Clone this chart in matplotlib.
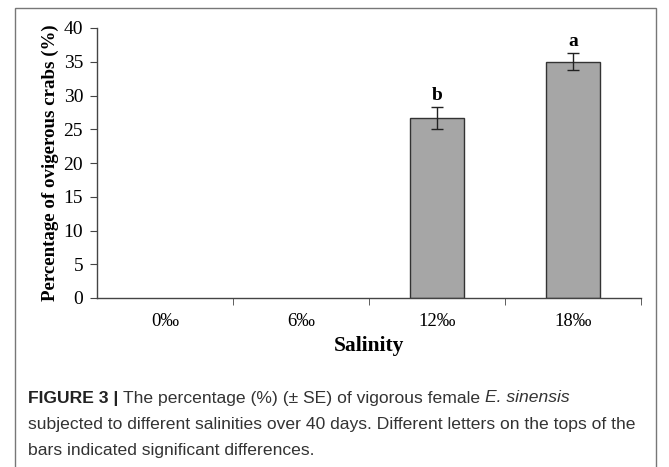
import matplotlib
matplotlib.use("Agg")
import matplotlib.pyplot as plt
from matplotlib.patches import Rectangle

categories = ["0‰", "6‰", "12‰", "18‰"]
values = [0, 0, 26.7, 35.0]
errors = [0, 0, 1.6, 1.25]
letters = ["", "", "b", "a"]
yticks = [0, 5, 10, 15, 20, 25, 30, 35, 40]

W, H = 669, 467
fig = plt.figure(figsize=(W / 100, H / 100), dpi=100)
serif = ["Liberation Serif", "DejaVu Serif"]

ax = fig.add_axes([97 / W, 1 - 298 / H, (641 - 97) / W, (298 - 28) / H])
x = list(range(len(categories)))
for i, (v, e) in enumerate(zip(values, errors)):
    if v > 0:
        ax.bar(i, v, width=0.4, color="#a6a6a6", edgecolor="#333333", linewidth=1.0, zorder=2)
        ax.errorbar(i, v, yerr=e, fmt="none", ecolor="#222222", elinewidth=1.0, capsize=4, capthick=1.0, zorder=3)
        ax.text(i, v + e + 0.5, letters[i], ha="center", va="bottom", fontsize=14,
                fontweight="bold", family=serif)

ax.set_xlim(-0.5, len(categories) - 0.5)
ax.set_ylim(0, 40)
ax.set_yticks(yticks)
ax.set_yticklabels([str(t) for t in yticks], family=serif, fontsize=14)
ax.set_xticks(x)
ax.set_xticklabels(categories, family=serif, fontsize=13.5)
ax.set_xticks([i + 0.5 for i in x], minor=True)
ax.tick_params(axis="x", which="major", length=0, pad=11)
ax.tick_params(axis="x", which="minor", length=5, direction="out", color="#444444")
ax.tick_params(axis="y", length=5, direction="out", color="#444444", pad=5)
for s in ["top", "right"]:
    ax.spines[s].set_visible(False)
for s in ["left", "bottom"]:
    ax.spines[s].set_color("#444444")
    ax.spines[s].set_linewidth(1.0)
ax.set_ylabel("Percentage of ovigerous crabs (%)", family=serif, fontsize=13.6, fontweight="bold", labelpad=3)
ax.set_xlabel("Salinity", family=serif, fontsize=15.5, fontweight="bold", labelpad=4)

# outer frame
fig.patches.append(Rectangle((15 / W, -0.02), (656 - 15) / W, 1 - 8 / H + 0.02,
                             transform=fig.transFigure, fill=False, edgecolor="#777777",
                             linewidth=1.0))

cap = ["Liberation Sans Narrow", "Liberation Sans", "DejaVu Sans"]
fs = 12.6
y1 = 1 - 398 / H
t = fig.text(28 / W, y1, "FIGURE 3 | ", family=cap, fontsize=fs, fontweight="bold", va="center", color="#222222")
fig.canvas.draw()
r = fig.canvas.get_renderer()
bb = t.get_window_extent(r)
t2 = fig.text(bb.x1 / W, y1, "The percentage (%) (± SE) of vigorous female ", family=cap, fontsize=fs,
              va="center", color="#333333")
bb2 = t2.get_window_extent(r)
fig.text(bb2.x1 / W, y1, "E. sinensis", family=cap, fontsize=fs, style="italic", va="center", color="#333333")
fig.text(28 / W, 1 - 424 / H, "subjected to different salinities over 40 days. Different letters on the tops of the",
         family=cap, fontsize=fs, va="center", color="#333333")
fig.text(28 / W, 1 - 450 / H, "bars indicated significant differences.", family=cap, fontsize=fs,
         va="center", color="#333333")

fig.savefig("out.png", dpi=100)
